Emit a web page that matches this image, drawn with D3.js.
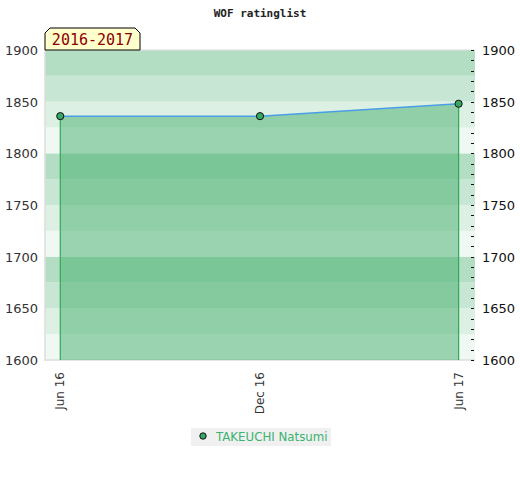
<!DOCTYPE html>
<html><head><meta charset="utf-8">
<script src="https://cdn.jsdelivr.net/npm/d3@7"></script>
<style>body{margin:0;background:#fff}</style>
</head><body>
<svg id="c" width="520" height="480"></svg>
<script>
const dates = ["2016-06-01","2016-12-01","2017-06-01"];
const ratings = [1836, 1836, 1848];
const tickLabels = ["Jun 16","Dec 16","Jun 17"];
const seriesName = "TAKEUCHI Natsumi";
const periodLabel = "2016-2017";
const title = "WOF ratinglist";
const yTicks = [1600,1650,1700,1750,1800,1850,1900];

const parse = d3.timeParse("%Y-%m-%d");
const data = dates.map((d,i)=>({date:parse(d), v:ratings[i]}));

const svg = d3.select("#c");
const L=45,R=475,T=50,B=360;
const x = d3.scaleTime().domain([parse("2016-05-18"), parse("2017-06-16")]).range([L,R]);
const y = d3.scaleLinear().domain([1600,1900]).range([B,T]);

// bands
const bandColors = ["#b3dec4","#c8e6d4","#ddf0e4","#f0f8f3"];
const bands = d3.range(1600,1900,25);
svg.append("g").selectAll("rect").data(bands).join("rect")
  .attr("x",L).attr("width",R-L)
  .attr("y",d=>y(d+25)).attr("height",d=>y(d)-y(d+25))
  .attr("fill",d=>bandColors[Math.round((1900-(d+25))/25)%4]);

// frame
svg.append("path").attr("d",`M${L},${T}H${R}`).attr("stroke","#ddd").attr("fill","none");
svg.append("path").attr("d",`M${L},${T}V${B}H${R}`).attr("stroke","#ddd").attr("fill","none").attr("stroke-width",1.5);

// area
const area = d3.area().x(d=>x(d.date)).y0(B).y1(d=>y(d.v));
svg.append("path").datum(data).attr("d",area).attr("fill","rgb(60,172,102)").attr("fill-opacity",0.48);
// vertical edges
[data[0], data[data.length-1]].forEach(d=>{
  svg.append("line").attr("x1",x(d.date)).attr("x2",x(d.date)).attr("y1",y(d.v)).attr("y2",B)
    .attr("stroke","#2eaa55").attr("stroke-width",1.2);
});
// line
const line = d3.line().x(d=>x(d.date)).y(d=>y(d.v));
svg.append("path").datum(data).attr("d",line).attr("fill","none").attr("stroke","#4a9ee6").attr("stroke-width",1.5);
// points
svg.append("g").selectAll("circle").data(data).join("circle")
  .attr("cx",d=>x(d.date)).attr("cy",d=>y(d.v)).attr("r",3.6)
  .attr("fill","#35a866").attr("stroke","#111").attr("stroke-width",1);

// left axis labels
const axisFont = "'DejaVu Sans', sans-serif";
svg.append("g").selectAll("text").data(yTicks).join("text")
  .attr("x",38).attr("y",d=>y(d)+5).attr("text-anchor","end")
  .attr("font-family",axisFont).attr("font-size",13).attr("fill","#333").text(d=>d);
// right axis labels
svg.append("g").selectAll("text").data(yTicks).join("text")
  .attr("x",482).attr("y",d=>y(d)+5).attr("text-anchor","start")
  .attr("font-family",axisFont).attr("font-size",13).attr("fill","#111").text(d=>d);
// right minor ticks
const minor = d3.range(1600,1901,10);
svg.append("g").selectAll("line").data(minor).join("line")
  .attr("x1",471).attr("x2",474).attr("y1",d=>Math.round(y(d))+0.5).attr("y2",d=>Math.round(y(d))+0.5)
  .attr("stroke","#111").attr("stroke-width",1);

// x tick labels
svg.append("g").selectAll("text").data(data).join("text")
  .attr("transform",(d)=>`translate(${x(d.date)+4},372) rotate(-90)`)
  .attr("text-anchor","end").attr("font-family",axisFont).attr("font-size",12).attr("fill","#333")
  .text((d,i)=>tickLabels[i]);

// title
svg.append("text").attr("x",260).attr("y",17).attr("text-anchor","middle")
  .attr("font-family","'DejaVu Sans Mono', monospace").attr("font-weight","bold").attr("font-size",11)
  .attr("fill","#222").text(title);

// period label
const bx=45, by=28, bw=95, bh=22, c=5;
svg.append("path").attr("d",`M${bx},${by+bh}V${by+c}L${bx+c},${by}H${bx+bw-c}L${bx+bw},${by+c}V${by+bh}Z`)
  .attr("fill","#ffffcc").attr("stroke","#000").attr("stroke-width",1);
svg.append("text").attr("x",bx+bw/2).attr("y",by+17).attr("text-anchor","middle")
  .attr("font-family","'DejaVu Sans Mono', monospace").attr("font-size",15).attr("fill","#8b0000").text(periodLabel);

// legend
svg.append("rect").attr("x",191).attr("y",428).attr("width",140).attr("height",18).attr("fill","#f0f0f0");
svg.append("circle").attr("cx",203).attr("cy",436).attr("r",3.2).attr("fill","#35a866").attr("stroke","#111");
svg.append("text").attr("x",216).attr("y",441).attr("font-family",axisFont).attr("font-size",11.8)
  .attr("fill","#3cb371").text(seriesName);
</script>
</body></html>
